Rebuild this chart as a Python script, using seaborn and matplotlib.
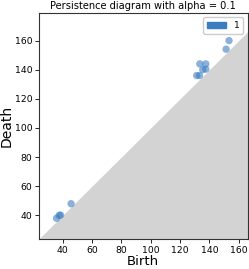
import numpy as np
import pandas as pd
import matplotlib
matplotlib.use("Agg")
import matplotlib.pyplot as plt
from matplotlib.patches import Patch
import seaborn as sns

# persistence pairs (homology dimension 1)
birth = [35.9, 37.7, 38.6, 45.8, 131.4, 133.3, 135.5, 137.6, 133.5, 137.6, 151.4, 153.4]
death = [38.0, 40.0, 40.2, 48.0, 136.0, 136.0, 140.0, 140.4, 144.0, 144.0, 154.1, 160.0]
dim = ["1"] * len(birth)

title = "Persistence diagram with alpha = 0.1"
blue = "#3a7dc1"

df = pd.DataFrame({"Birth": birth, "Death": death, "dim": dim})

fig, ax = plt.subplots(figsize=(2.49, 2.69), dpi=100)
fig.subplots_adjust(left=0.157, right=0.994, bottom=0.11, top=0.952)

xlo, xhi = 24, 166
ylo, yhi = 23.5, 179

# shaded region under the diagonal
xs = np.array([xlo, xhi])
ax.fill_between(xs, ylo, xs, color="lightgrey", linewidth=0, zorder=0)

sns.scatterplot(data=df, x="Birth", y="Death", hue="dim", palette=[blue],
                alpha=0.6, s=28, edgecolor="none", legend=False, ax=ax)

ax.set_xlim(xlo, xhi)
ax.set_ylim(ylo, yhi)
ax.set_xticks([40, 60, 80, 100, 120, 140, 160])
ax.set_yticks([40, 60, 80, 100, 120, 140, 160])
ax.tick_params(labelsize=6.7, length=3, width=0.6, pad=2)
for sp in ax.spines.values():
    sp.set_linewidth(0.8)
    sp.set_color("#333333")

ax.set_xlabel("Birth", fontsize=9.5, labelpad=-0.5)
ax.set_ylabel("Death", fontsize=10, labelpad=1)
ax.set_title(title, fontsize=7.1, pad=3)

ax.legend(handles=[Patch(color=blue, label="1")], loc="upper right",
          fontsize=6.5, handlelength=2.2, handleheight=0.7,
          borderpad=0.4, framealpha=1)

fig.savefig("out.png", dpi=100)
